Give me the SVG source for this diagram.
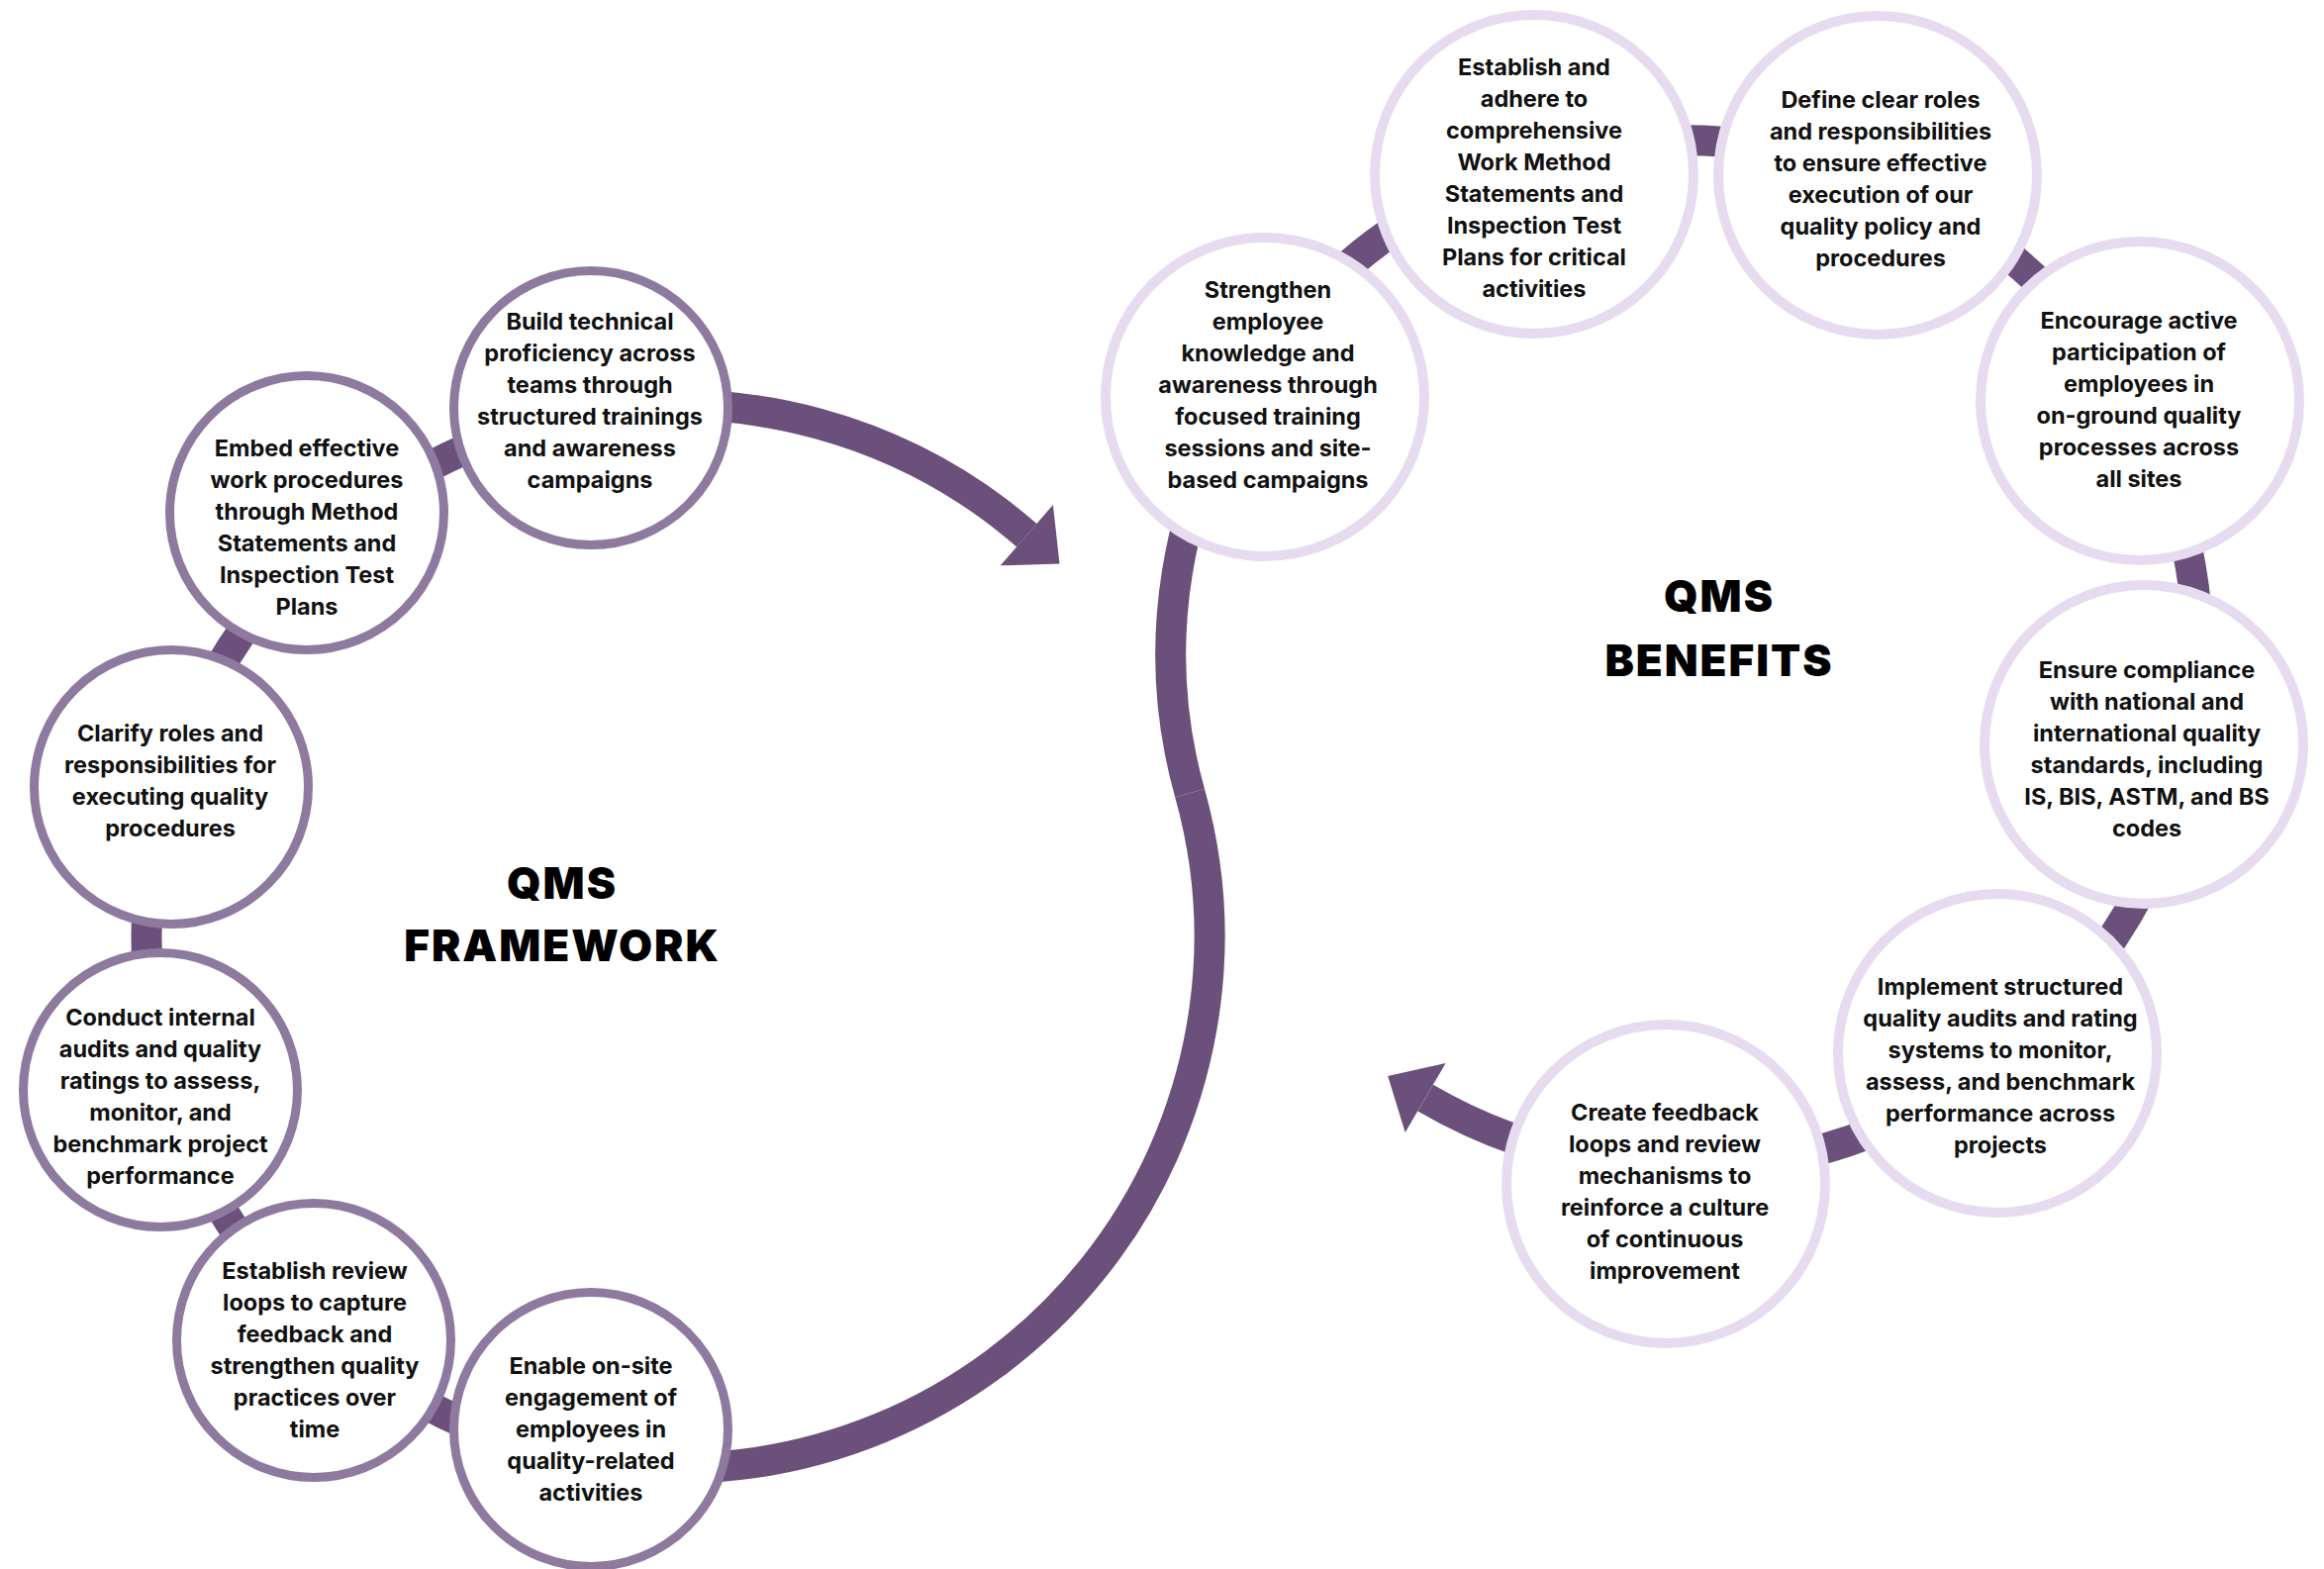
<svg xmlns="http://www.w3.org/2000/svg" width="2348" height="1585" viewBox="0 0 2348 1585">
<style>
.band{fill:none;stroke:#6a507a;stroke-width:31}
.head{fill:#6a507a}
.fw{fill:#fff;stroke:#8e7a9e;stroke-width:9}
.bn{fill:#fff;stroke:#e7dcef;stroke-width:10}
.t{font-family:Inter,"Liberation Sans",sans-serif;font-size:23.5px;font-weight:700;fill:#111;text-anchor:middle}
.h{font-family:Inter,"Liberation Sans",sans-serif;font-size:44px;font-weight:900;fill:#000;text-anchor:middle;letter-spacing:2px}
</style>
<rect width="2348" height="1585" fill="#fff"/>
<g id="connectors">
<path class="band" d="M1202.1 801.1 A537 537 0 1 1 1037.3 540.7"/>
<polygon class="head" points="1063.9,510.1 1070.5,569.6 1010.7,571.3"/>
<path class="band" d="M1202.1 801.1 A519 519 0 1 1 1440.2 1109.1"/>
<polygon class="head" points="1460.6,1074.1 1402.2,1086.9 1419.7,1144.1"/>
</g>
<g id="node-build"><circle class="fw" cx="597" cy="412" r="138.5"/>
<text class="t"><tspan x="596" y="333">Build technical</tspan><tspan x="596" y="365">proficiency across</tspan><tspan x="596" y="397">teams through</tspan><tspan x="596" y="429">structured trainings</tspan><tspan x="596" y="461">and awareness</tspan><tspan x="596" y="493">campaigns</tspan></text></g>
<g id="node-embed"><circle class="fw" cx="310" cy="518" r="138.5"/>
<text class="t"><tspan x="310" y="461">Embed effective</tspan><tspan x="310" y="493">work procedures</tspan><tspan x="310" y="525">through Method</tspan><tspan x="310" y="557">Statements and</tspan><tspan x="310" y="589">Inspection Test</tspan><tspan x="310" y="621">Plans</tspan></text></g>
<g id="node-clarify"><circle class="fw" cx="173" cy="795" r="138.5"/>
<text class="t"><tspan x="172" y="749">Clarify roles and</tspan><tspan x="172" y="781">responsibilities for</tspan><tspan x="172" y="813">executing quality</tspan><tspan x="172" y="845">procedures</tspan></text></g>
<g id="node-conduct"><circle class="fw" cx="162" cy="1101" r="138.5"/>
<text class="t"><tspan x="162" y="1036">Conduct internal</tspan><tspan x="162" y="1068">audits and quality</tspan><tspan x="162" y="1100">ratings to assess,</tspan><tspan x="162" y="1132">monitor, and</tspan><tspan x="162" y="1164">benchmark project</tspan><tspan x="162" y="1196">performance</tspan></text></g>
<g id="node-review"><circle class="fw" cx="317" cy="1354" r="138.5"/>
<text class="t"><tspan x="318" y="1292">Establish review</tspan><tspan x="318" y="1324">loops to capture</tspan><tspan x="318" y="1356">feedback and</tspan><tspan x="318" y="1388">strengthen quality</tspan><tspan x="318" y="1420">practices over</tspan><tspan x="318" y="1452">time</tspan></text></g>
<g id="node-enable"><circle class="fw" cx="597" cy="1444" r="138.5"/>
<text class="t"><tspan x="597" y="1388">Enable on-site</tspan><tspan x="597" y="1420">engagement of</tspan><tspan x="597" y="1452">employees in</tspan><tspan x="597" y="1484">quality-related</tspan><tspan x="597" y="1516">activities</tspan></text></g>
<g id="node-strengthen"><circle class="bn" cx="1278" cy="401" r="161"/>
<text class="t"><tspan x="1281" y="301">Strengthen</tspan><tspan x="1281" y="333">employee</tspan><tspan x="1281" y="365">knowledge and</tspan><tspan x="1281" y="397">awareness through</tspan><tspan x="1281" y="429">focused training</tspan><tspan x="1281" y="461">sessions and site-</tspan><tspan x="1281" y="493">based campaigns</tspan></text></g>
<g id="node-adhere"><circle class="bn" cx="1550" cy="176" r="161"/>
<text class="t"><tspan x="1550" y="76">Establish and</tspan><tspan x="1550" y="108">adhere to</tspan><tspan x="1550" y="140">comprehensive</tspan><tspan x="1550" y="172">Work Method</tspan><tspan x="1550" y="204">Statements and</tspan><tspan x="1550" y="236">Inspection Test</tspan><tspan x="1550" y="268">Plans for critical</tspan><tspan x="1550" y="300">activities</tspan></text></g>
<g id="node-define"><circle class="bn" cx="1897" cy="177" r="161"/>
<text class="t"><tspan x="1900" y="109">Define clear roles</tspan><tspan x="1900" y="141">and responsibilities</tspan><tspan x="1900" y="173">to ensure effective</tspan><tspan x="1900" y="205">execution of our</tspan><tspan x="1900" y="237">quality policy and</tspan><tspan x="1900" y="269">procedures</tspan></text></g>
<g id="node-encourage"><circle class="bn" cx="2162" cy="405" r="161"/>
<text class="t"><tspan x="2161" y="332">Encourage active</tspan><tspan x="2161" y="364">participation of</tspan><tspan x="2161" y="396">employees in</tspan><tspan x="2161" y="428">on-ground quality</tspan><tspan x="2161" y="460">processes across</tspan><tspan x="2161" y="492">all sites</tspan></text></g>
<g id="node-ensure"><circle class="bn" cx="2166" cy="752" r="161"/>
<text class="t"><tspan x="2169" y="685">Ensure compliance</tspan><tspan x="2169" y="717">with national and</tspan><tspan x="2169" y="749">international quality</tspan><tspan x="2169" y="781">standards, including</tspan><tspan x="2169" y="813">IS, BIS, ASTM, and BS</tspan><tspan x="2169" y="845">codes</tspan></text></g>
<g id="node-implement"><circle class="bn" cx="2018" cy="1064" r="161"/>
<text class="t"><tspan x="2021" y="1005">Implement structured</tspan><tspan x="2021" y="1037">quality audits and rating</tspan><tspan x="2021" y="1069">systems to monitor,</tspan><tspan x="2021" y="1101">assess, and benchmark</tspan><tspan x="2021" y="1133">performance across</tspan><tspan x="2021" y="1165">projects</tspan></text></g>
<g id="node-create"><circle class="bn" cx="1683" cy="1196" r="161"/>
<text class="t"><tspan x="1682" y="1132">Create feedback</tspan><tspan x="1682" y="1164">loops and review</tspan><tspan x="1682" y="1196">mechanisms to</tspan><tspan x="1682" y="1228">reinforce a culture</tspan><tspan x="1682" y="1260">of continuous</tspan><tspan x="1682" y="1292">improvement</tspan></text></g>
<g id="title-framework"><text class="h"><tspan x="568" y="908">QMS</tspan><tspan x="568" y="971">FRAMEWORK</tspan></text></g>
<g id="title-benefits"><text class="h"><tspan x="1737" y="618">QMS</tspan><tspan x="1737" y="683">BENEFITS</tspan></text></g>
</svg>
